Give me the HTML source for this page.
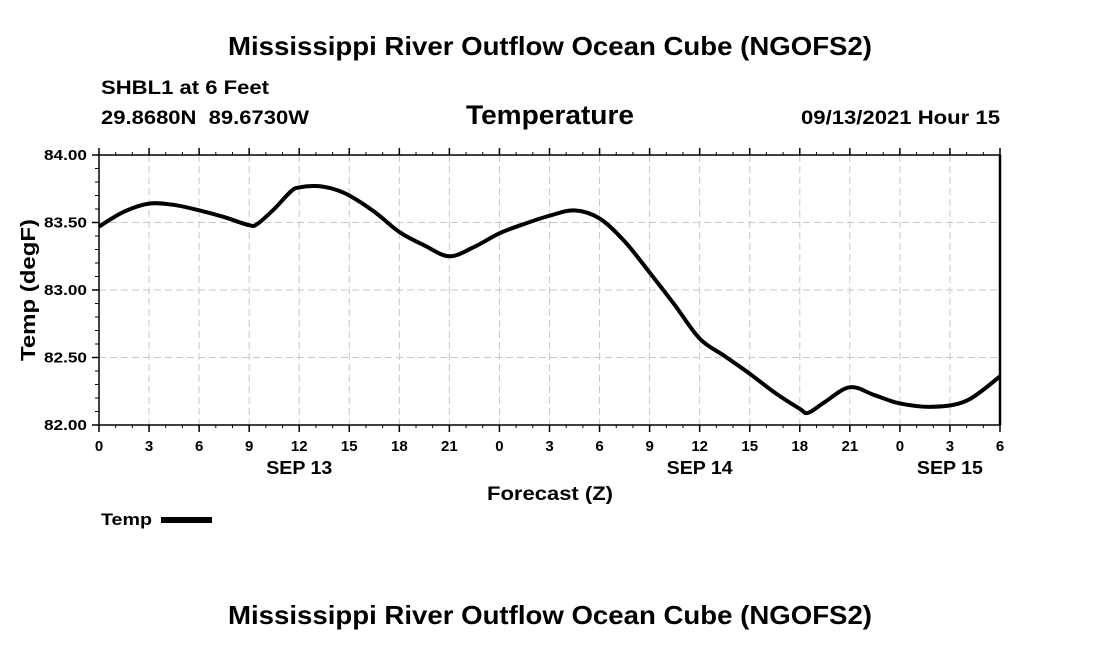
<!DOCTYPE html>
<html><head><meta charset="utf-8"><style>
body{margin:0;background:#fff}
svg text{font-family:"Liberation Sans",Arial,sans-serif;font-weight:bold;fill:#000;white-space:pre}
</style></head><body>
<svg id="c" width="1100" height="650" viewBox="0 0 1100 650">
<text x="228" y="55" font-size="26" textLength="644" lengthAdjust="spacingAndGlyphs">Mississippi River Outflow Ocean Cube (NGOFS2)</text>
<text x="101" y="94" font-size="19" textLength="168" lengthAdjust="spacingAndGlyphs">SHBL1 at 6 Feet</text>
<text x="101" y="124" font-size="19" textLength="208" lengthAdjust="spacingAndGlyphs">29.8680N  89.6730W</text>
<text x="466" y="124" font-size="27" textLength="168" lengthAdjust="spacingAndGlyphs">Temperature</text>
<text x="801" y="124" font-size="19" textLength="199" lengthAdjust="spacingAndGlyphs">09/13/2021 Hour 15</text>
<g id="grid"></g><g id="axes"></g>
<path id="line" fill="none" stroke="#000" stroke-width="4" stroke-linejoin="round"/>
<text x="35" y="290" font-size="20" text-anchor="middle" textLength="142" lengthAdjust="spacingAndGlyphs" transform="rotate(-90 35 290)">Temp (degF)</text>
<text x="487" y="500" font-size="19" textLength="126" lengthAdjust="spacingAndGlyphs">Forecast (Z)</text>
<text x="101" y="525" font-size="17" textLength="51" lengthAdjust="spacingAndGlyphs">Temp</text>
<rect x="161" y="517" width="51" height="6" fill="#000"/>
<text x="228" y="624" font-size="26" textLength="644" lengthAdjust="spacingAndGlyphs">Mississippi River Outflow Ocean Cube (NGOFS2)</text>
</svg>
<script>
const hours=[0,1.5,3,4.5,6,7.5,9,9.5,10.5,11.5,12,13,14,15,16.5,18,19.5,21,22.5,24,25.5,27,28.5,30,31.5,33,34.5,36,37.5,39,40.5,42,42.5,43.5,45,46.5,48,50,52,54];
const temps=[83.47,83.58,83.64,83.63,83.59,83.54,83.48,83.49,83.60,83.73,83.76,83.77,83.75,83.70,83.58,83.43,83.33,83.25,83.32,83.42,83.49,83.55,83.59,83.53,83.36,83.13,82.89,82.64,82.51,82.38,82.24,82.12,82.09,82.17,82.28,82.22,82.16,82.135,82.18,82.36];
const xTickLabels=['0','3','6','9','12','15','18','21','0','3','6','9','12','15','18','21','0','3','6'];
const yTicks=[82,82.5,83,83.5,84];
const dayLabels=['SEP 13','SEP 14','SEP 15'];
const dayHours=[12,36,51];
const X0=99,X1=1000,Y0=425,Y1=155,XMAX=54,YMIN=82,YMAX=84;
const sx=h=>X0+(X1-X0)*h/XMAX, sy=v=>Y0-(Y0-Y1)*(v-YMIN)/(YMAX-YMIN);
const NS='http://www.w3.org/2000/svg';
function mk(tag,attrs,parent){const e=document.createElementNS(NS,tag);for(const k in attrs)e.setAttribute(k,attrs[k]);parent.appendChild(e);return e;}
const grid=document.getElementById('grid'),axes=document.getElementById('axes');
xTickLabels.forEach((l,i)=>{const x=sx(i*3);
 if(i>0&&i<xTickLabels.length-1){const g=mk('line',{x1:x,x2:x,y1:Y1,y2:Y0,stroke:'#c8c8c8','stroke-dasharray':'7,4'},grid);
 
 }
 mk('line',{x1:x,x2:x,y1:Y0,y2:Y0+7,stroke:'#000','stroke-width':1.5},axes);
 mk('line',{x1:x,x2:x,y1:Y1,y2:Y1-7,stroke:'#000','stroke-width':1.5},axes);
 const t=mk('text',{x:x,y:Y0+26,'font-size':15,'text-anchor':'middle'},axes);t.textContent=l;
 
 });
dayLabels.forEach((l,i)=>{const t=mk('text',{x:sx(dayHours[i]),y:Y0+49,'font-size':18,'text-anchor':'middle',textLength:66,lengthAdjust:'spacingAndGlyphs'},axes);t.textContent=l;
 
 });
yTicks.forEach(v=>{const y=sy(v);
 if(v>YMIN&&v<YMAX){const g=mk('line',{x1:X0,x2:X1,y1:y,y2:y,stroke:'#c8c8c8','stroke-dasharray':'7,4'},grid);
 
 }
 mk('line',{x1:X0-7,x2:X0,y1:y,y2:y,stroke:'#000','stroke-width':1.5},axes);
 const t=mk('text',{x:X0-12,y:y+5,'font-size':15,'text-anchor':'end',textLength:43,lengthAdjust:'spacingAndGlyphs'},axes);t.textContent=v.toFixed(2);
 
 });
for(let v=YMIN;v<=YMAX+1e-9;v+=0.1){const y=sy(v);mk('line',{x1:X0-4,x2:X0,y1:y,y2:y,stroke:'#000'},axes);}
for(let h=0;h<=XMAX;h++){const x=sx(h);mk('line',{x1:x,x2:x,y1:Y0,y2:Y0+3,stroke:'#000'},axes);mk('line',{x1:x,x2:x,y1:Y1,y2:Y1-3,stroke:'#000'},axes);}
const fr=mk('rect',{x:X0,y:Y1,width:X1-X0,height:Y0-Y1,fill:'none',stroke:'#000','stroke-width':1.5},axes);


mk('line',{x1:X1,x2:X1,y1:Y1,y2:Y0,stroke:'#000','stroke-width':2.5},axes);
const P=hours.map((h,i)=>[sx(h),sy(temps[i])]);
let d='M'+P[0][0]+','+P[0][1];
for(let i=0;i<P.length-1;i++){const p0=P[Math.max(0,i-1)],p1=P[i],p2=P[i+1],p3=P[Math.min(P.length-1,i+2)];
 const c1=[p1[0]+(p2[0]-p0[0])/6,p1[1]+(p2[1]-p0[1])/6],c2=[p2[0]-(p3[0]-p1[0])/6,p2[1]-(p3[1]-p1[1])/6];
 d+=' C'+c1+' '+c2+' '+p2;}
document.getElementById('line').setAttribute('d',d);
</script>
</body></html>
